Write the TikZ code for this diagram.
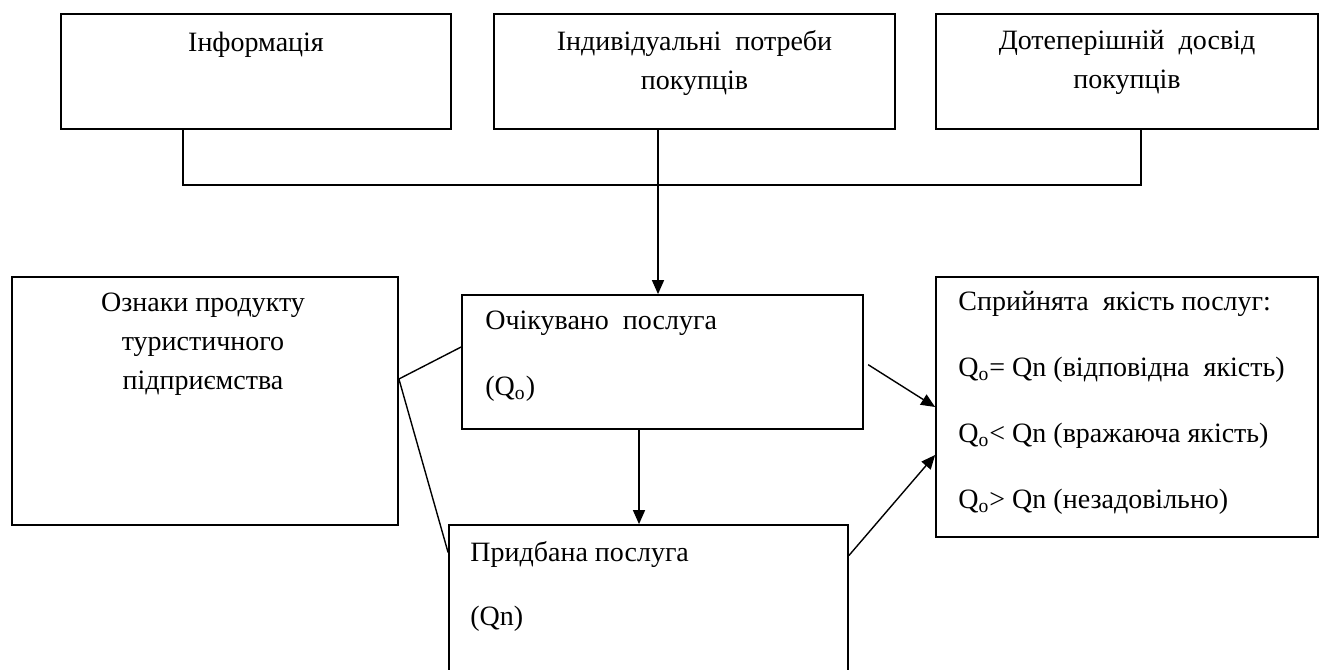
\documentclass[tikz,border=0pt]{standalone}
\usepackage{fontspec}
\setmainfont{Liberation Serif}
\usetikzlibrary{arrows.meta,calc}
\begin{document}
\begin{tikzpicture}[x=0.5pt,y=-0.5pt,
    box/.style={draw, line width=0.9pt, inner sep=0pt},
    txt/.style={font=\fontsize{14}{19.5}\selectfont, inner sep=0pt, align=center},
    link/.style={line width=0.7pt},
    arr/.style={link, -{Triangle[length=7pt,width=6pt]}}]
  \useasboundingbox (0,0) rectangle (1325,669);
  \node[box, minimum width=195pt, minimum height=57.5pt] (info) at (256,71.5) {};
  \node[box, minimum width=200.5pt, minimum height=57.5pt] (needs) at (694.5,71.5) {};
  \node[box, minimum width=191pt, minimum height=57.5pt] (exper) at (1127,71.5) {};
  \node[box, minimum width=193pt, minimum height=124pt] (feat) at (205,401) {};
  \node[box, minimum width=200.5pt, minimum height=67pt] (expect) at (662.5,362) {};
  \node[box, minimum width=199.5pt, minimum height=77.5pt] (bought) at (648.5,602.5) {};
  \node[box, minimum width=191pt, minimum height=130pt] (percv) at (1127,407) {};
  \node[txt] (info-t) at (256,45) {Інформація};
  \node[txt] (needs-t) at (694.5,62.5) {Індивідуальні\ \ потреби\\покупців};
  \node[txt] (exper-t) at (1127,62.5) {Дотеперішній\ \ досвід\\покупців};
  \node[txt] (feat-t) at (203,344) {Ознаки продукту\\туристичного\\підприємства};
  \node[txt, align=left, anchor=west] (expect-t) at (485,356)
    {Очікувано\ \ послуга\\[13.5pt](Q\textsubscript{о})};
  \node[txt, align=left, anchor=west] (bought-t) at (470,586)
    {Придбана послуга\\[12.5pt](Qn)};
  \node[txt, align=left, anchor=west] (percv-t) at (958,402.5)
    {Сприйнята\ \ якість послуг:\\[13.5pt]
     Q\textsubscript{о}= Qn (відповідна\ \ якість)\\[13.5pt]
     Q\textsubscript{о}< Qn (вражаюча якість)\\[13.5pt]
     Q\textsubscript{о}> Qn (незадовільно)};
  \coordinate (busl) at (183,185);
  \coordinate (busm) at (658,185);
  \coordinate (busr) at (1141,185);
  \coordinate (drop) at (639,0);
  \coordinate (fork) at ($(feat.east)+(0,-22)$);
  \draw[link] (info.south -| busl) -- (busl) -- (busr) -- (exper.south -| busr);
  \draw[arr] (needs.south -| busm) -- (expect.north -| busm);
  \draw[link] ($(expect.west)+(0,-15)$) -- (fork) -- ($(bought.west)+(0,-50)$);
  \draw[arr] (expect.south -| drop) -- (bought.north -| drop);
  \draw[arr, shorten <=2.5pt] (expect.east) -- (percv.west);
  \draw[arr] ($(bought.east)+(0,-47)$) -- ($(percv.west)+(0,48)$);
\end{tikzpicture}
\end{document}
